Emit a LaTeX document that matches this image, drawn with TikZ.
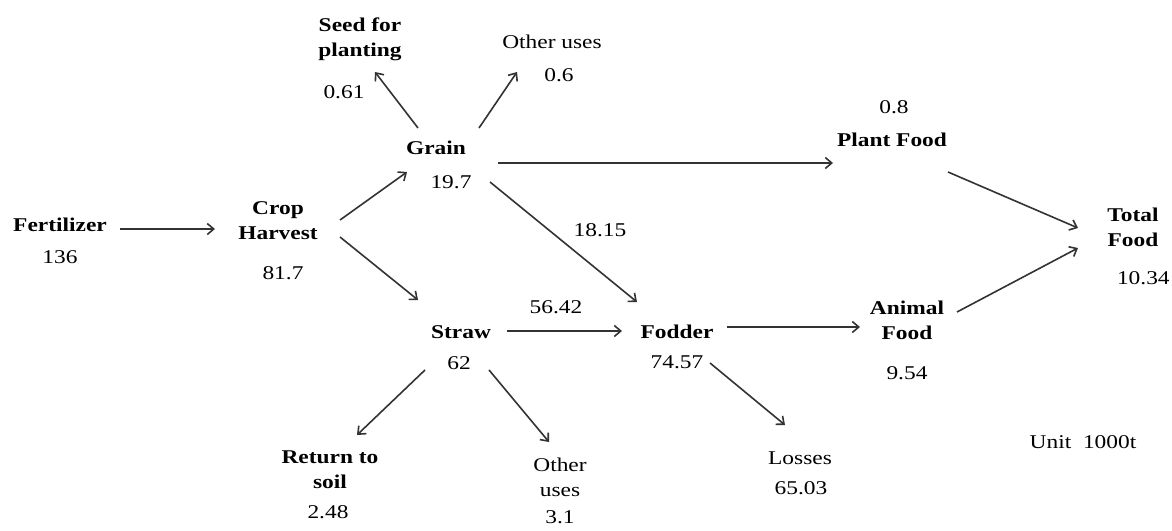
\documentclass[tikz,border=0pt]{standalone}
\usepackage{fontspec}
\usepackage{graphicx}
\setmainfont{Liberation Serif}
\usetikzlibrary{arrows.meta}
\newcommand\sx[1]{\scalebox{1.2}[1]{#1}}
\begin{document}
\begin{tikzpicture}[x=1pt,y=-1pt,
  every node/.style={inner sep=0pt, outer sep=0pt, text=black, font=\fontsize{19.5}{25}\selectfont},
  lbl/.style={font=\fontsize{19.5}{25}\selectfont\bfseries, align=center},
  val/.style={font=\fontsize{19.5}{25}\selectfont, align=center},
  conn/.style={draw=black!80, line width=1.6pt, -{Straight Barb[length=6.5pt,width=11pt]}}]
\useasboundingbox[fill=white] (0,0) rectangle (1172,530);

% nodes
\node[lbl] (fert) at (60,225) {\sx{Fertilizer}};
\node[val] (fertv) at (60,257) {\sx{136}};
\node[lbl] (crop) at (278,221) {\sx{Crop}\\\sx{Harvest}};
\node[val] (cropv) at (283,273) {\sx{81.7}};
\node[lbl] (grain) at (436,148) {\sx{Grain}};
\node[val] (grainv) at (451,182) {\sx{19.7}};
\node[lbl] (seed) at (360,39) {\sx{Seed for}\\\sx{planting}};
\node[val] (seedv) at (344,92) {\sx{0.61}};
\node[val] (ogr) at (552,42) {\sx{Other uses}};
\node[val] (ogrv) at (559,75) {\sx{0.6}};
\node[val] (plantv) at (894,107) {\sx{0.8}};
\node[lbl] (plant) at (892,140) {\sx{Plant Food}};
\node[lbl] (total) at (1133,227) {\sx{Total}\\\sx{Food}};
\node[val, anchor=west] (totalv) at (1117,278) {\sx{10.34}};
\node[lbl] (animal) at (907,320) {\sx{Animal}\\\sx{Food}};
\node[val] (animalv) at (907,373) {\sx{9.54}};
\node[lbl] (fodder) at (677,332) {\sx{Fodder}};
\node[val] (fodderv) at (677,362) {\sx{74.57}};
\node[lbl] (straw) at (461,332) {\sx{Straw}};
\node[val] (strawv) at (459,363) {\sx{62}};
\node[val] (sf) at (556,307) {\sx{56.42}};
\node[val] (gf) at (600,230) {\sx{18.15}};
\node[lbl] (ret) at (330,470) {\sx{Return to}\\\sx{soil}};
\node[val] (retv) at (328,512) {\sx{2.48}};
\node[val] (ost) at (560,477) {\sx{Other}\\\sx{uses}};
\node[val] (ostv) at (560,517) {\sx{3.1}};
\node[val] (loss) at (800,458) {\sx{Losses}};
\node[val] (lossv) at (801,488) {\sx{65.03}};
\node[val] (unit) at (1083,442) {\sx{Unit~~1000t}};

% connector end points
\coordinate (fert-o) at (120,229);   \coordinate (crop-i) at (215,229);
\coordinate (crop-o1) at (340,220);  \coordinate (grain-i) at (407,172);
\coordinate (crop-o2) at (340,237);  \coordinate (straw-i) at (418,300);
\coordinate (grain-o1) at (418,128); \coordinate (seed-i) at (375,72);
\coordinate (grain-o2) at (479,128); \coordinate (ogr-i) at (517,72);
\coordinate (grain-o3) at (498,163); \coordinate (plant-i) at (833,163);
\coordinate (grain-o4) at (490,182); \coordinate (fodder-i1) at (637,302);
\coordinate (straw-o1) at (507,331); \coordinate (fodder-i2) at (622,331);
\coordinate (fodder-o1) at (727,327);\coordinate (animal-i) at (860,327);
\coordinate (fodder-o2) at (710,363);\coordinate (loss-i) at (785,425);
\coordinate (straw-o2) at (425,370); \coordinate (ret-i) at (357,435);
\coordinate (straw-o3) at (489,370); \coordinate (ost-i) at (549,442);
\coordinate (plant-o) at (948,172);  \coordinate (total-i1) at (1078,228);
\coordinate (animal-o) at (957,312); \coordinate (total-i2) at (1078,248);

% connectors
\draw[conn] (fert-o) -- (crop-i);
\draw[conn] (crop-o1) -- (grain-i);
\draw[conn] (crop-o2) -- (straw-i);
\draw[conn] (grain-o1) -- (seed-i);
\draw[conn] (grain-o2) -- (ogr-i);
\draw[conn] (grain-o3) -- (plant-i);
\draw[conn] (grain-o4) -- (fodder-i1);
\draw[conn] (straw-o1) -- (fodder-i2);
\draw[conn] (fodder-o1) -- (animal-i);
\draw[conn] (fodder-o2) -- (loss-i);
\draw[conn] (straw-o2) -- (ret-i);
\draw[conn] (straw-o3) -- (ost-i);
\draw[conn] (plant-o) -- (total-i1);
\draw[conn] (animal-o) -- (total-i2);
\end{tikzpicture}
\end{document}
